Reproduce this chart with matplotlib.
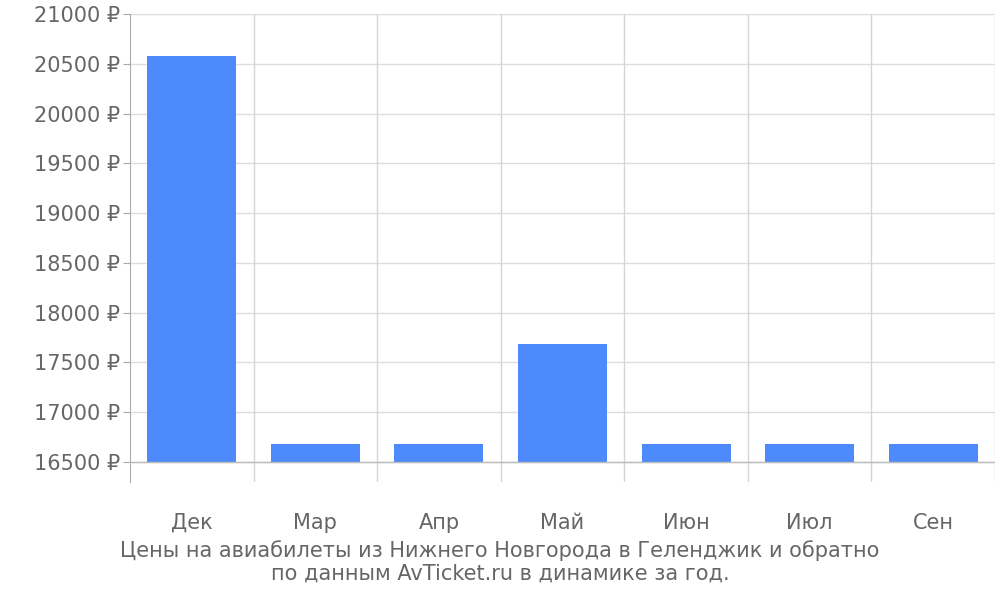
import matplotlib
matplotlib.use("Agg")
import matplotlib.pyplot as plt
plt.rcParams["font.family"] = "DejaVu Sans"

categories = ["Дек", "Мар", "Апр", "Май", "Июн", "Июл", "Сен"]
prices = [20580, 16680, 16680, 17690, 16680, 16680, 16680]
yticks = [16500, 17000, 17500, 18000, 18500, 19000, 19500, 20000, 20500, 21000]

fig = plt.figure(figsize=(10, 6), dpi=100)
ax = fig.add_axes([0.13, 0.1967, 0.865, 0.78])
base = 16500
x = list(range(len(categories)))
ax.bar(x, [p - base for p in prices], bottom=base, width=0.72, color="#4d8afc", zorder=3)
ax.set_xlim(-0.5, len(categories) - 0.5)
ax.set_ylim(16300, 21000)
ax.set_yticks(yticks)
ax.set_yticklabels([f"{v} ₽" for v in yticks])
ax.set_xticks(x)
ax.set_xticklabels(categories)
for v in yticks:
    ax.axhline(v, color="#dddddd", lw=1, zorder=1)
ax.axhline(base, color="#bbbbbb", lw=1, zorder=4)
for b in [i + 0.5 for i in x[:-1]] + [len(categories) - 0.5]:
    ax.axvline(b, color="#d5d5d5", lw=1, zorder=1)
for s in ["top", "right", "bottom"]:
    ax.spines[s].set_visible(False)
ax.spines["left"].set_color("#aaaaaa")
ax.tick_params(axis="both", colors="#666666", labelsize=15, length=0)
ax.tick_params(axis="y", length=5, color="#aaaaaa", pad=2)
ax.tick_params(axis="x", pad=22)
fig.text(0.5, 0.063, "Цены на авиабилеты из Нижнего Новгорода в Геленджик и обратно\nпо данным AvTicket.ru в динамике за год.",
         ha="center", va="center", fontsize=15, color="#666666", linespacing=1.15)
fig.savefig("out.png", dpi=100)
